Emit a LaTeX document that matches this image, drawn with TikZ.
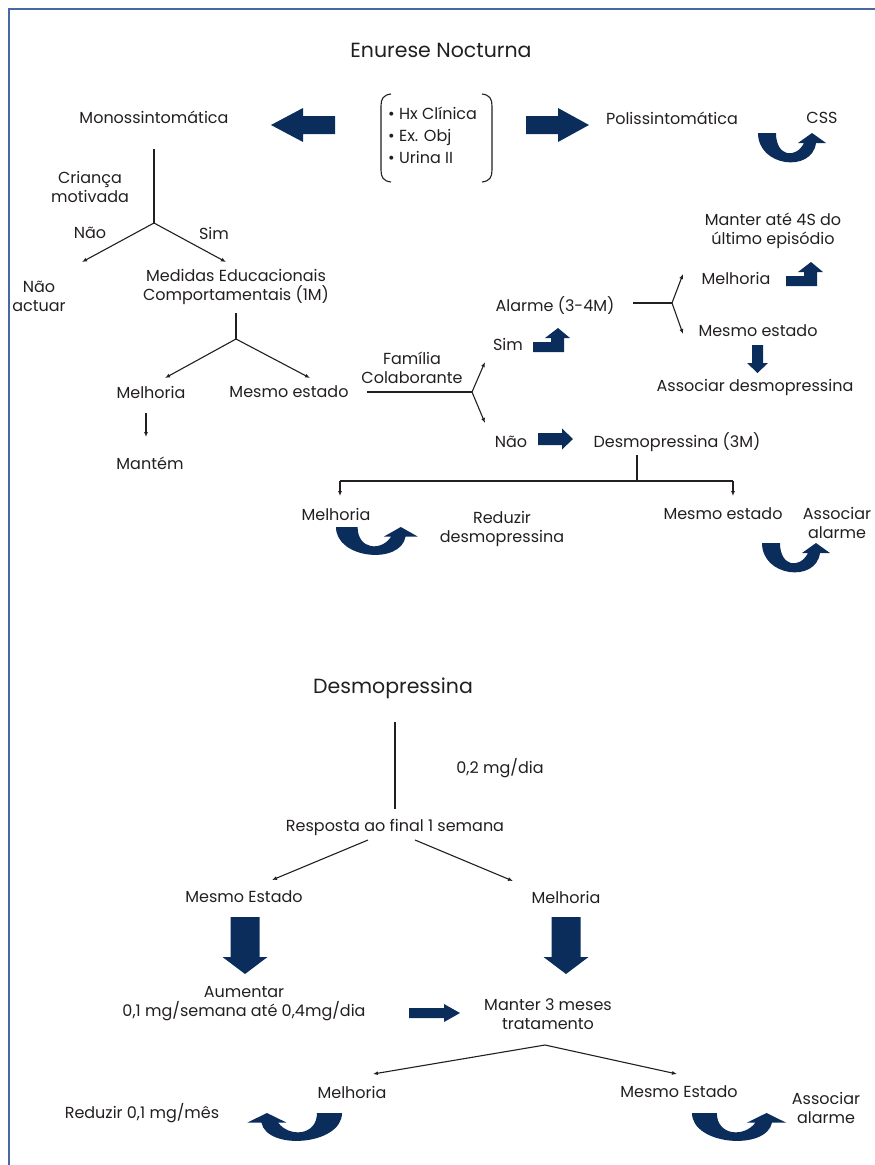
\documentclass[tikz,border=0pt]{standalone}
\usepackage{fontspec}
\setmainfont{Poppins}
\usetikzlibrary{arrows.meta}
\definecolor{navy}{HTML}{0B2D5B}
\definecolor{ink}{HTML}{231F20}
\definecolor{framecol}{HTML}{4A66A3}

% filled U-turn arrow: x, y (top left), xscale, yscale
\newcommand{\uturn}[4]{%
  \fill[navy, shift={(#1,#2)}, xscale=#3, yscale=#4]
    (0,0) -- (18,0) .. controls (18,24) and (38,26) .. (46,10)
    -- (40,10) -- (54,0) -- (68,10) -- (58,10)
    .. controls (54,40) and (0,34) .. (0,0) -- cycle;}
% small bent arrow, turning upwards: x, y (top left)
\newcommand{\bentarr}[2]{%
  \fill[navy, shift={(#1,#2)}]
    (0,24) -- (0,14) -- (18,14) -- (18,10) -- (12,10) -- (25,0)
    -- (37,10) -- (31,10) -- (31,24) -- cycle;}
% block arrow: x, y (tail), angle, length, shaft half, head half, head length
\newcommand{\blockarr}[7]{%
  \fill[navy, shift={(#1,#2)}, rotate=#3]
    (0,-#5) -- ({#4-#7},-#5) -- ({#4-#7},-#6) -- (#4,0)
    -- ({#4-#7},#6) -- ({#4-#7},#5) -- (0,#5) -- cycle;}

\tikzset{
  lbl/.style={text=ink, align=center, inner sep=0pt, font=\fontsize{16}{19}\selectfont},
  ttl/.style={lbl, font=\fontsize{20.5}{24}\selectfont},
  link/.style={draw=ink, line width=1.1pt},
  flow/.style={link, -{Latex[length=5pt,width=4pt]}},
}

\begin{document}
\begin{tikzpicture}[x=1pt, y=-1pt]
\useasboundingbox (0,0) rectangle (875,1165);
\draw[framecol, line width=2pt] (9,1166) -- (9,9) -- (876,9);

% Enurese
\node[ttl] (enurese) at (441,50) {Enurese Nocturna};
\node[lbl] (mono) at (154,117) {Monossintomática};
\node[lbl] (poli) at (672,118) {Polissintomática};
\node[lbl] (css) at (822,118) {CSS};
\node[lbl, align=left, anchor=west, font=\fontsize{16}{22}\selectfont] (exams) at (388,135)
  {• Hx Clínica\\• Ex. Obj\\• Urina II};
\draw[link] (391,94) .. controls (383,95) and (381,99) .. (381,106) -- (381,170)
  .. controls (381,177) and (383,181) .. (391,182);
\draw[link] (482,94) .. controls (490,95) and (492,99) .. (492,106) -- (492,170)
  .. controls (492,177) and (490,181) .. (482,182);
\blockarr{335}{125}{180}{64}{9}{17}{32}
\blockarr{526}{125}{0}{63}{9}{17}{31}
\uturn{758}{133}{1}{1}

% Monossintomatica
\coordinate (monoStem) at (154,149);
\coordinate (j1) at (154,223);
\coordinate (naoEnd) at (82,262);
\coordinate (simEnd) at (226,262);
\node[lbl] (crianca) at (90,187) {Criança\\motivada};
\node[lbl] (naoA) at (90,233) {Não};
\node[lbl] (simA) at (214,233) {Sim};
\node[lbl] (naoact) at (39,296) {Não\\actuar};
\node[lbl] (medidas) at (236,287) {Medidas Educacionais\\Comportamentais (1M)};
\draw[link] (monoStem) -- (j1);
\draw[flow] (j1) -- (naoEnd);
\draw[flow] (j1) -- (simEnd);

\coordinate (medStem) at (236,313);
\coordinate (j2) at (236,339);
\coordinate (melEnd) at (165,378);
\coordinate (mesEnd) at (310,378);
\node[lbl] (melA) at (151,392) {Melhoria};
\node[lbl] (mesA) at (289,392) {Mesmo estado};
\node[lbl] (mantem) at (150,463) {Mantém};
\draw[link] (medStem) -- (j2);
\draw[flow] (j2) -- (melEnd);
\draw[flow] (j2) -- (mesEnd);
\coordinate (melDown) at (146,413);
\coordinate (mantemTop) at (146,437);
\draw[flow] (melDown) -- (mantemTop);

% Familia colaborante
\node[lbl] (familia) at (412,368) {Família\\Colaborante};
\coordinate (famStart) at (367,392);
\coordinate (j3) at (472,392);
\coordinate (simEndB) at (485,362);
\coordinate (naoEndB) at (485,423);
\draw[link] (famStart) -- (j3);
\draw[flow] (j3) -- (simEndB);
\draw[flow] (j3) -- (naoEndB);
\node[lbl] (simB) at (508,344) {Sim};
\bentarr{533}{328}
\node[lbl] (alarme) at (555,306) {Alarme (3-4M)};
\coordinate (alStart) at (633,303);
\coordinate (j4) at (672,303);
\coordinate (melEndC) at (683,274);
\coordinate (mesEndC) at (683,334);
\draw[link] (alStart) -- (j4);
\draw[flow] (j4) -- (melEndC);
\draw[flow] (j4) -- (mesEndC);
\node[lbl] (manter4s) at (773,231) {Manter até 4S do\\último episódio};
\node[lbl] (melC) at (736,278) {Melhoria};
\bentarr{786}{262}
\node[lbl] (mesC) at (758,331) {Mesmo estado};
\blockarr{757.5}{345}{-90}{28}{5.5}{10.5}{10}
\node[lbl] (assocD) at (755,387) {Associar desmopressina};

\node[lbl] (naoB) at (511,442) {Não};
\blockarr{538}{439}{0}{35}{6}{10.5}{11}
\node[lbl] (desmo3m) at (677,442) {Desmopressina (3M)};
\coordinate (dStem) at (637,455);
\coordinate (j5) at (637,481);
\coordinate (jl) at (340,481);
\coordinate (jr) at (733,481);
\coordinate (melEndD) at (340,496);
\coordinate (mesEndD) at (733,496);
\draw[link] (dStem) -- (j5);
\draw[link] (jl) -- (jr);
\draw[flow] (jl) -- (melEndD);
\draw[flow] (jr) -- (mesEndD);
\node[lbl] (melD) at (336,514) {Melhoria};
\uturn{336}{527}{1.2}{0.95}
\node[lbl] (reduzD) at (502,529) {Reduzir\\desmopressina};
\node[lbl] (mesD) at (723,514) {Mesmo estado};
\node[lbl] (assocA) at (837,523) {Associar\\alarme};
\uturn{762}{543}{1}{1}

% Desmopressina
\node[ttl] (desmo) at (393,688) {Desmopressina};
\coordinate (dTop) at (395,722);
\coordinate (dBot) at (395,809);
\draw[link] (dTop) -- (dBot);
\node[lbl] (dose) at (500,768) {0,2 mg/dia};
\node[lbl] (resposta) at (395,827) {Resposta ao final 1 semana};
\coordinate (rl) at (368,840);
\coordinate (rr) at (415,840);
\coordinate (mesEndE) at (272,880);
\coordinate (melEndE) at (513,881);
\draw[flow] (rl) -- (mesEndE);
\draw[flow] (rr) -- (melEndE);
\node[lbl] (mesE) at (244,897) {Mesmo Estado};
\node[lbl] (melE) at (566,897) {Melhoria};
\blockarr{245}{917}{-90}{57}{14.5}{22.5}{17}
\blockarr{566}{917}{-90}{57}{14.5}{22.5}{17}
\node[lbl] (aumentar) at (244,1004) {Aumentar\\0,1 mg/semana até 0,4mg/dia};
\blockarr{409}{1013}{0}{51}{5}{9}{16}
\node[lbl] (manter3) at (548,1014) {Manter 3 meses\\tratamento};
\coordinate (j6) at (545,1045);
\coordinate (melEndF) at (373,1074);
\coordinate (mesEndF) at (677,1074);
\draw[flow] (j6) -- (melEndF);
\draw[flow] (j6) -- (mesEndF);
\node[lbl] (melF) at (352,1092) {Melhoria};
\node[lbl] (mesF) at (679,1092) {Mesmo Estado};
\node[lbl] (reduzF) at (142,1113) {Reduzir 0,1 mg/mês};
\uturn{342}{1113}{-1.39}{0.95}
\uturn{692}{1113}{1.38}{0.95}
\node[lbl] (assocF) at (826,1108) {Associar\\alarme};
\end{tikzpicture}
\end{document}
